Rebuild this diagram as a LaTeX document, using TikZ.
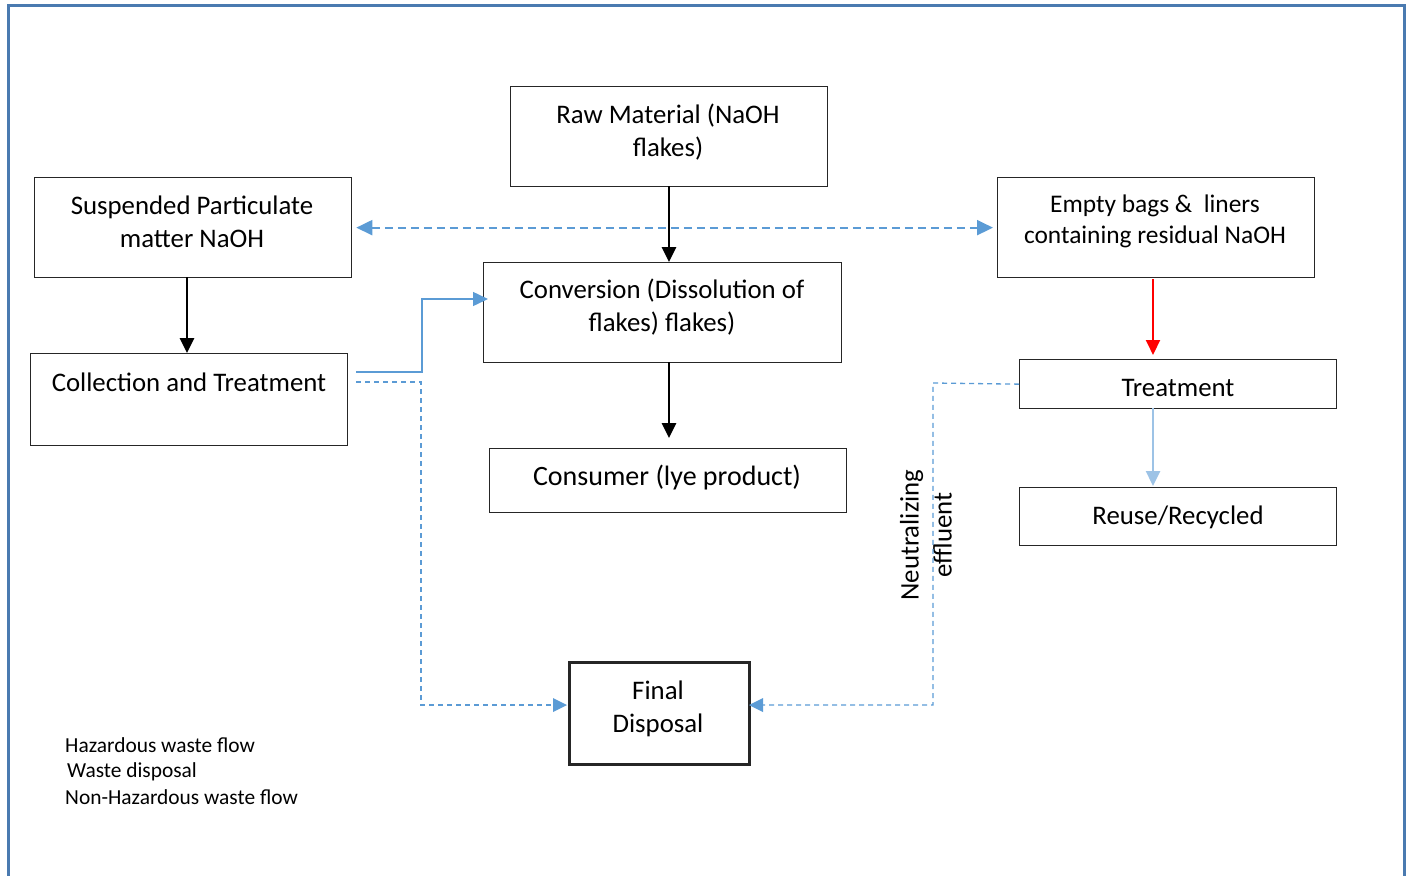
\documentclass[tikz,border=0pt]{standalone}
\usepackage{fontspec}
\setmainfont{Carlito}
\usetikzlibrary{arrows.meta}
\definecolor{frameblue}{HTML}{4A7AB0}
\definecolor{flowblue}{HTML}{5B9BD5}
\definecolor{paleblue}{HTML}{9DC3E6}
\begin{document}
\begin{tikzpicture}[x=1pt,y=-1pt,
  box/.style={draw=black!85, line width=1.3pt, inner sep=0pt, anchor=north west},
  txt/.style={align=center, inner sep=0pt, font=\fontsize{26.8}{33}\selectfont},
  legtxt/.style={align=left, inner sep=0pt, anchor=west, font=\fontsize{21.4}{26}\selectfont},
  blk/.style={draw=black, line width=2.7pt, -{Triangle[length=15pt,width=14pt]}},
  redarr/.style={draw=red, line width=2pt, -{Triangle[length=15pt,width=14pt]}},
  palearr/.style={draw=paleblue, line width=2.5pt, -{Triangle[length=15pt,width=14pt]}},
  dasharr/.style={draw=flowblue, line width=2pt, dash pattern=on 8pt off 5pt, {Triangle[length=16pt,width=15pt]}-{Triangle[length=16pt,width=15pt]}},
  solidblue/.style={draw=flowblue, line width=1.5pt, -{Triangle[length=15pt,width=14pt]}},
  thindash/.style={draw=flowblue, line width=1.3pt, dash pattern=on 5pt off 4pt, -{Triangle[length=14pt,width=14pt,line width=0pt]}}]
\useasboundingbox (0,0) rectangle (1410,875);
\coordinate (fbl) at (8,880);
\coordinate (ftl) at (8,6);
\coordinate (ftr) at (1404,6);
\coordinate (fbr) at (1404,880);
\draw[frameblue, line width=3pt] (fbl) -- (ftl) -- (ftr) -- (fbr);

% boxes
\node[box, minimum width=317pt, minimum height=100pt] (raw) at (510,86) {};
\node[txt] (rawt) at (668,132) {Raw Material (NaOH\\flakes)};
\node[box, minimum width=317pt, minimum height=100pt] (susp) at (34,177) {};
\node[txt] (suspt) at (192,222) {Suspended Particulate\\matter NaOH};
\node[box, minimum width=317pt, minimum height=100pt] (empty) at (997,177) {};
\node[txt, font=\fontsize{25.4}{31}\selectfont] (emptyt) at (1155,221) {Empty bags \&\ \ liners\\containing residual NaOH};
\node[box, minimum width=358pt, minimum height=100pt] (conv) at (483,262) {};
\node[txt] (convt) at (662,307.5) {Conversion (Dissolution of\\flakes) flakes)};
\node[box, minimum width=317pt, minimum height=92pt] (coll) at (30,353) {};
\node[txt] (collt) at (189,382) {Collection and Treatment};
\node[box, minimum width=357pt, minimum height=64pt] (cons) at (489,448) {};
\node[txt, font=\fontsize{28}{33}\selectfont] (const) at (667,478) {Consumer (lye product)};
\node[box, minimum width=317pt, minimum height=49pt] (treat) at (1019,359) {};
\node[txt] (treatt) at (1178,388) {Treatment};
\node[box, minimum width=317pt, minimum height=58pt] (reuse) at (1019,487) {};
\node[txt] (reuset) at (1178,517) {Reuse/Recycled};
\node[box, line width=3pt, minimum width=180pt, minimum height=102pt] (fin) at (568,661) {};
\node[txt] (fint) at (658,708.5) {Final\\Disposal};

% label
\node[txt, rotate=90] (neut) at (926,535) {Neutralizing\\effluent};

% legend
\node[legtxt] (leg1) at (65,745) {Hazardous waste flow};
\node[legtxt] (leg2) at (67,771.5) {Waste disposal};
\node[legtxt] (leg3) at (65,797.5) {Non-Hazardous waste flow};

% coordinates
\coordinate (a1) at (669,186);
\coordinate (a2) at (669,262);
\coordinate (b1) at (669,362);
\coordinate (b2) at (669,438);
\coordinate (c1) at (187,277);
\coordinate (c2) at (187,353);
\coordinate (r1) at (1153,279);
\coordinate (r2) at (1153,355);
\coordinate (p1) at (1153,408);
\coordinate (p2) at (1153,486);
\coordinate (s1) at (356,372);
\coordinate (s2) at (488,299);
\coordinate (d1) at (356,382);
\coordinate (d2) at (567,705);
\coordinate (e2) at (749,705);

\draw[blk] (a1) -- (a2);
\draw[blk] (b1) -- (b2);
\draw[blk] (c1) -- (c2);
\draw[redarr] (r1) -- (r2);
\draw[palearr] (p1) -- (p2);
\draw[dasharr, shorten <=4pt, shorten >=4pt] (susp.east) -- (empty.west);
\draw[solidblue] (s1) -- (422,372) -- (422,299) -- (s2);
\draw[thindash] (d1) -- (421,382) -- (421,705) -- (d2);
\draw[thindash] (treat.west) -- (933,383) -- (933,705) -- (e2);
\end{tikzpicture}
\end{document}
